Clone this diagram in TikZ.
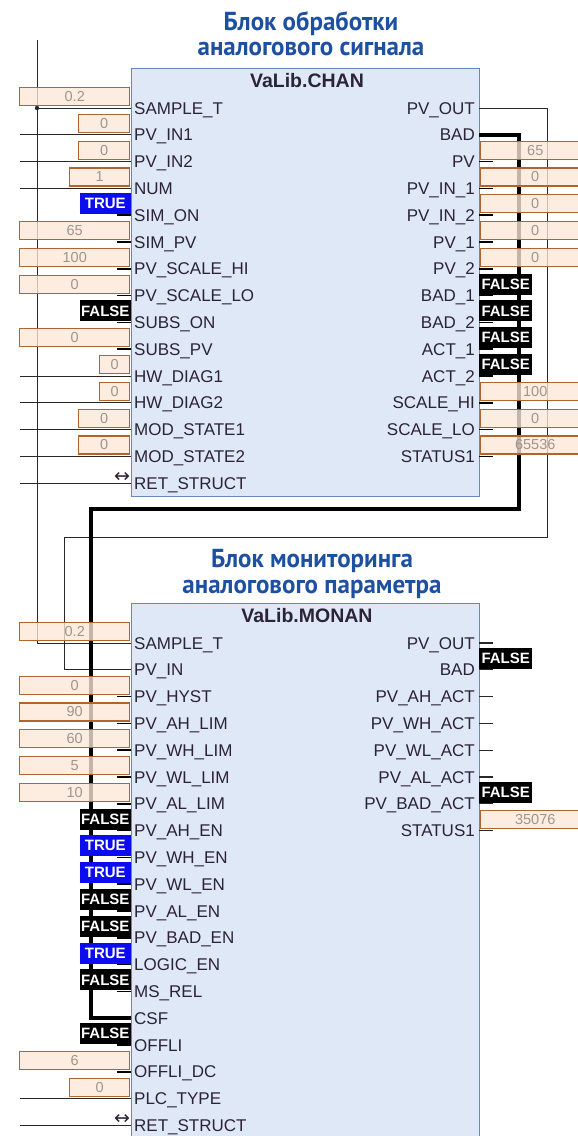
\documentclass[tikz,border=0pt]{standalone}
\usepackage{fontspec}
\setmainfont{Liberation Sans}
\newfontfamily\ttlfont[FakeStretch=0.96]{PT Sans}
\newfontfamily\arrfont{DejaVu Sans}
\definecolor{blkfill}{RGB}{222,232,246}
\definecolor{blkline}{RGB}{105,135,185}
\definecolor{valfill}{RGB}{252,232,216}
\definecolor{valline}{RGB}{178,100,45}
\definecolor{valtext}{RGB}{160,148,140}
\definecolor{ttlblue}{RGB}{30,80,162}
\definecolor{truebl}{RGB}{12,12,240}
\definecolor{pintext}{RGB}{45,35,55}
\definecolor{wirecol}{RGB}{40,40,40}
\tikzset{
  blk/.style={draw=blkline, fill=blkfill, line width=1pt, inner sep=0},
  pinl/.style={anchor=base west, inner sep=0, text=pintext, font=\fontsize{17}{17}\selectfont},
  pinr/.style={anchor=base east, inner sep=0, text=pintext, font=\fontsize{17}{17}\selectfont},
  btitle/.style={anchor=base, inner sep=0, text=pintext, font=\bfseries\fontsize{19.5}{19.5}\selectfont},
  ttl/.style={anchor=base, inner sep=0, text=ttlblue, font=\ttlfont\bfseries\fontsize{26}{26}\selectfont},
  val/.style={draw=valline, fill=valfill, fill opacity=0.78, text opacity=1, line width=1.3pt, inner sep=0, minimum height=18, text=valtext, font=\fontsize{14.5}{14.5}\selectfont},
  tbox/.style={fill=truebl, text=white, inner sep=0, minimum height=21, minimum width=51, font=\bfseries\fontsize{15}{15}\selectfont},
  fbox/.style={tbox, fill=black},
  wire/.style={draw=wirecol, line width=1pt},
  bus/.style={draw=black, line width=4pt},
  stub/.style={draw=black, line width=1.6pt},
  arr/.style={inner sep=0, text=pintext, font=\arrfont\fontsize{19}{19}\selectfont},
}
\begin{document}
\begin{tikzpicture}[x=1pt,y=-1pt]
\useasboundingbox (0,0) rectangle (578,1136);
% titles
\node[ttl] (t1a) at (311,30) {Блок обработки};
\node[ttl] (t1b) at (311,55) {аналогового сигнала};
\node[ttl] (t2a) at (312,567) {Блок мониторинга};
\node[ttl] (t2b) at (312,593) {аналогового параметра};
% blocks
\node[blk, minimum width=348, minimum height=428, anchor=north west] (chan) at (131,68) {};
\node[blk, minimum width=348, minimum height=560, anchor=north west] (monan) at (131,603) {};
\node[btitle] (chanT) at (307,87) {VaLib.CHAN};
\node[btitle] (monT) at (307,622) {VaLib.MONAN};
% pin coordinates
\foreach \i in {0,...,14} {
  \coordinate (cin\i) at (131,{108+26.8*\i});
  \coordinate (cout\i) at (479,{108+26.8*\i});
}
\foreach \i in {0,...,18} {
  \coordinate (min\i) at (131,{643+26.8*\i});
}
\foreach \i in {0,...,7} {
  \coordinate (mout\i) at (479,{643+26.8*\i});
}
% free left wires
\foreach \i in {1,2,3,10,11,12,13,14} {
  \coordinate (cfree\i) at (20,{108+26.8*\i});
  \draw[wire] (cfree\i) -- (cin\i);
}
\foreach \i in {17,18} {
  \coordinate (mfree\i) at (20,{643+26.8*\i});
  \draw[wire] (mfree\i) -- (min\i);
}
% stubs
\foreach \i in {4,...,9} {
  \coordinate (cst\i) at (117,{108+26.8*\i});
  \draw[stub] (cst\i) -- (cin\i);
}
\foreach \i in {2,...,13} {
  \coordinate (cso\i) at (493,{108+26.8*\i});
  \draw[stub] (cout\i) -- (cso\i);
}
\foreach \i in {2,...,13,15,16} {
  \coordinate (mst\i) at (117,{643+26.8*\i});
  \draw[stub] (mst\i) -- (min\i);
}
\foreach \i in {0,...,7} {
  \coordinate (mso\i) at (493,{643+26.8*\i});
  \draw[wire, line width=1.3pt] (mout\i) -- (mso\i);
}
% sample time wire
\coordinate (top37) at (37,40);
\coordinate (j1) at (37,108);
\draw[wire] (top37) |- (min0);
\draw[wire] (j1) -- (cin0);
\fill[wirecol] (j1) circle (2.2);
% PV_OUT -> PV_IN
\coordinate (p1) at (547,537);
\coordinate (p2) at (64,537);
\draw[wire] (cout0) -| (p1) -- (p2) |- (min1);
% BAD -> CSF
\coordinate (b1) at (519,509);
\coordinate (b2) at (91,509);
\draw[bus] (cout1) -| (b1) -- (b2) |- (min14);
% left value boxes CHAN
\foreach \r/\w/\v in {0/110/0.2,1/51/0,2/51/0,3/60/1,5/110/65,6/110/100,7/110/0,9/110/0,10/30/0,11/30/0,12/51/0,13/51/0} {
  \node[val, minimum width=\w, anchor=south east] (cv\r) at (130.4,{108+26.8*\r-1.8}) {\v};
}
\node[tbox, anchor=south east] (cv4) at (131,{108+26.8*4-0.8}) {TRUE};
\node[fbox, anchor=south east] (cv8) at (131,{108+26.8*8-0.8}) {FALSE};
% right value boxes CHAN
\foreach \r/\v in {2/65,3/0,4/0,5/0,6/0,11/100,12/0,13/65536} {
  \node[val, minimum width=110, anchor=south west] (co\r) at (479.6,{108+26.8*\r-1.8}) {\v};
}
\foreach \r in {7,8,9,10} {
  \node[fbox, minimum width=53, anchor=south west] (co\r) at (479,{108+26.8*\r-0.8}) {FALSE};
}
% left value boxes MONAN
\foreach \r/\w/\v in {0/110/0.2,2/110/0,3/110/90,4/110/60,5/110/5,6/110/10,16/110/6,17/60/0} {
  \node[val, minimum width=\w, anchor=south east] (mv\r) at (130.4,{643+26.8*\r-1.8}) {\v};
}
\foreach \r/\s/\v in {7/fbox/FALSE,8/tbox/TRUE,9/tbox/TRUE,10/fbox/FALSE,11/fbox/FALSE,12/tbox/TRUE,13/fbox/FALSE,15/fbox/FALSE} {
  \node[\s, anchor=south east] (mv\r) at (131,{643+26.8*\r-0.8}) {\v};
}
% right value boxes MONAN
\node[fbox, minimum width=53, anchor=south west] (mo1) at (479,{643+26.8*1-0.8}) {FALSE};
\node[fbox, minimum width=53, anchor=south west] (mo6) at (479,{643+26.8*6-0.8}) {FALSE};
\node[val, minimum width=110, anchor=south west] (mo7) at (479.6,{643+26.8*7-1.8}) {35076};
% RET_STRUCT arrows
\node[arr] (cra) at (122,{108+26.8*14-6}) {↔};
\node[arr] (mra) at (122,{643+26.8*18-6}) {↔};
% labels CHAN
\foreach \t [count=\i from 0] in {SAMPLE\_T,PV\_IN1,PV\_IN2,NUM,SIM\_ON,SIM\_PV,PV\_SCALE\_HI,PV\_SCALE\_LO,SUBS\_ON,SUBS\_PV,HW\_DIAG1,HW\_DIAG2,MOD\_STATE1,MOD\_STATE2,RET\_STRUCT} {
  \node[pinl] (cl\i) at (134,{108+26.8*\i+6}) {\t};
}
\foreach \t [count=\i from 0] in {PV\_OUT,BAD,PV,PV\_IN\_1,PV\_IN\_2,PV\_1,PV\_2,BAD\_1,BAD\_2,ACT\_1,ACT\_2,SCALE\_HI,SCALE\_LO,STATUS1} {
  \node[pinr] (cr\i) at (475,{108+26.8*\i+6}) {\t};
}
% labels MONAN
\foreach \t [count=\i from 0] in {SAMPLE\_T,PV\_IN,PV\_HYST,PV\_AH\_LIM,PV\_WH\_LIM,PV\_WL\_LIM,PV\_AL\_LIM,PV\_AH\_EN,PV\_WH\_EN,PV\_WL\_EN,PV\_AL\_EN,PV\_BAD\_EN,LOGIC\_EN,MS\_REL,CSF,OFFLI,OFFLI\_DC,PLC\_TYPE,RET\_STRUCT} {
  \node[pinl] (ml\i) at (134,{643+26.8*\i+6}) {\t};
}
\foreach \t [count=\i from 0] in {PV\_OUT,BAD,PV\_AH\_ACT,PV\_WH\_ACT,PV\_WL\_ACT,PV\_AL\_ACT,PV\_BAD\_ACT,STATUS1} {
  \node[pinr] (mr\i) at (475,{643+26.8*\i+6}) {\t};
}
\end{tikzpicture}
\end{document}
